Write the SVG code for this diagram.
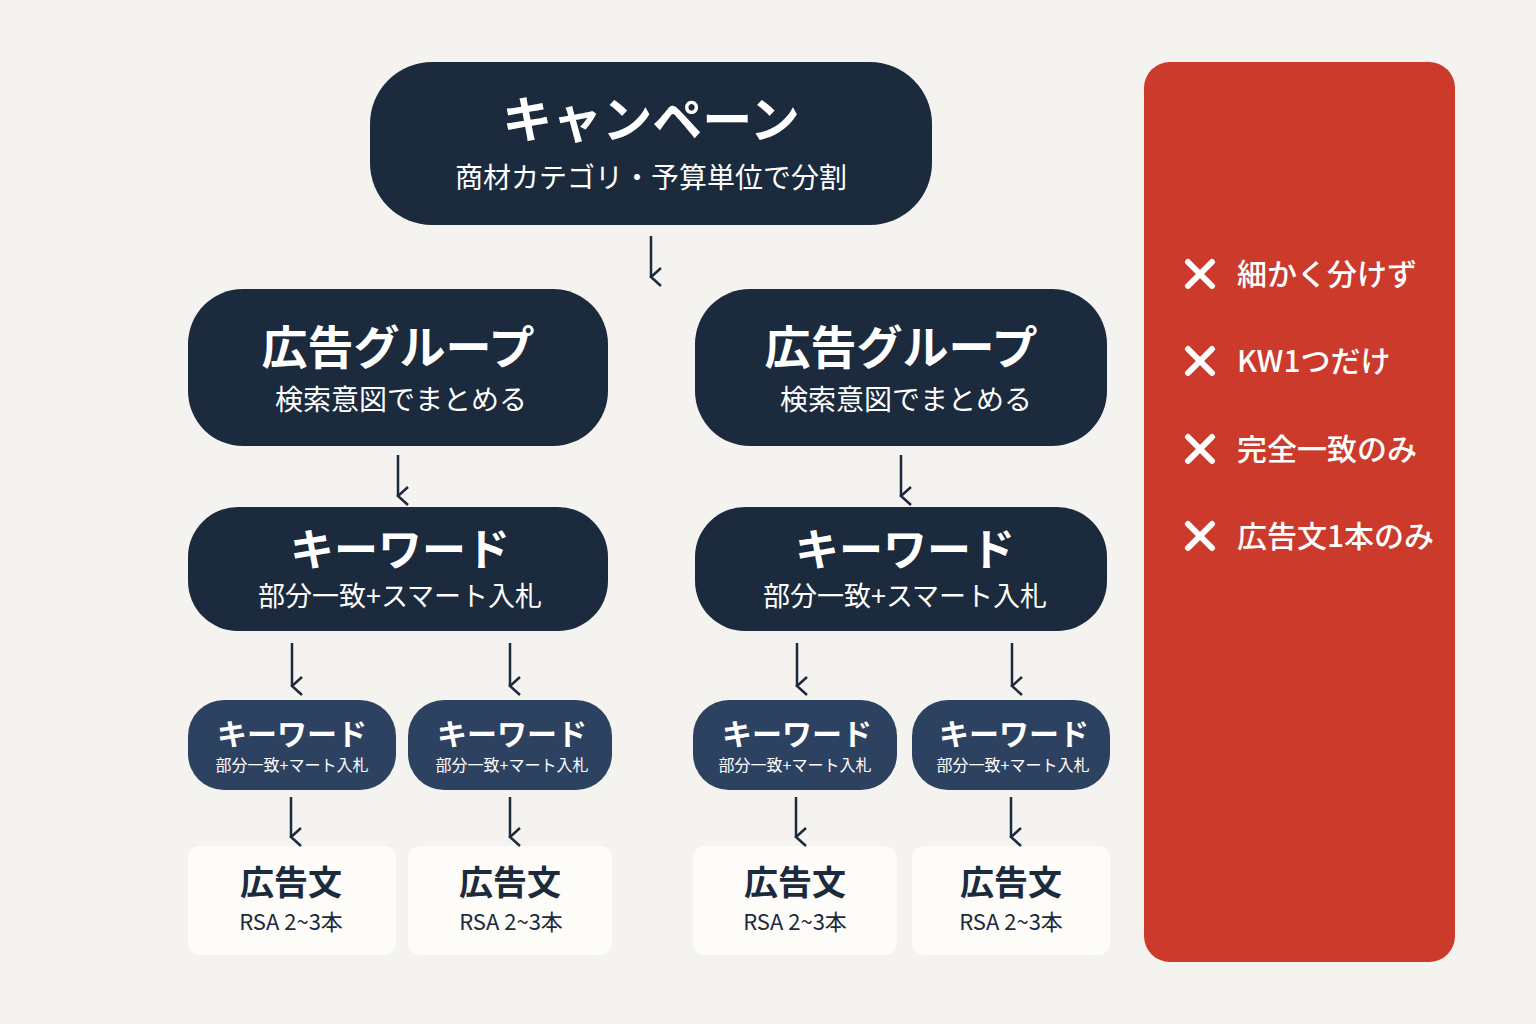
<svg xmlns="http://www.w3.org/2000/svg" width="1536" height="1024" viewBox="0 0 1536 1024">
<defs>
<style>
text{font-family:"Noto Sans CJK JP","Noto Sans",sans-serif;text-anchor:middle}
.dk{fill:#1b2a3d}.md{fill:#2d4260}.lt{fill:#fdfcf8}
.w{fill:#fff}.b{fill:#1b2a3d}
.ar{stroke:#1b2a3d;stroke-width:2.5;fill:none}
.x{stroke:#fff;stroke-width:6;stroke-linecap:round}
.r{text-anchor:start;fill:#fff;font-size:30px;font-weight:500}
</style>
<marker id="ah" viewBox="0 0 20 20" refX="10" refY="18" markerWidth="20" markerHeight="20" markerUnits="userSpaceOnUse" orient="auto-start-reverse"><path d="M1 8 L10 18 L19 8" stroke="#1b2a3d" stroke-width="2.5" fill="none"/></marker>
</defs>
<rect width="1536" height="1024" fill="#f5f3f0"/>
<g id="campaign"><rect x="370" y="62" width="562" height="163" rx="62" class="dk"/>
<text x="651" y="138" class="w" font-size="50" font-weight="700">キャンペーン</text>
<text x="651" y="188" class="w" font-size="28">商材カテゴリ・予算単位で分割</text></g>
<g id="ag1"><rect x="188" y="289" width="420" height="157" rx="55" class="dk"/>
<text x="398" y="364" class="w" font-size="46" font-weight="700">広告グループ</text>
<text x="401" y="410" class="w" font-size="28">検索意図でまとめる</text></g>
<g id="ag2"><rect x="695" y="289" width="412" height="157" rx="55" class="dk"/>
<text x="901" y="364" class="w" font-size="46" font-weight="700">広告グループ</text>
<text x="906" y="410" class="w" font-size="28">検索意図でまとめる</text></g>
<g id="kw1"><rect x="188" y="507" width="420" height="124" rx="50" class="dk"/>
<text x="400" y="566" class="w" font-size="44" font-weight="700">キーワード</text>
<text x="400" y="606" class="w" font-size="27">部分一致+スマート入札</text></g>
<g id="kw2"><rect x="695" y="507" width="412" height="124" rx="50" class="dk"/>
<text x="905" y="566" class="w" font-size="44" font-weight="700">キーワード</text>
<text x="905" y="606" class="w" font-size="27">部分一致+スマート入札</text></g>
<g id="k1"><rect x="188" y="700" width="208" height="90" rx="36" class="md"/><text x="292" y="745" class="w" font-size="30" font-weight="700">キーワード</text><text x="292" y="771" class="w" font-size="16">部分一致+マート入札</text></g>
<g id="k2"><rect x="408" y="700" width="204" height="90" rx="36" class="md"/><text x="512" y="745" class="w" font-size="30" font-weight="700">キーワード</text><text x="512" y="771" class="w" font-size="16">部分一致+マート入札</text></g>
<g id="k3"><rect x="693" y="700" width="204" height="90" rx="36" class="md"/><text x="797" y="745" class="w" font-size="30" font-weight="700">キーワード</text><text x="795" y="771" class="w" font-size="16">部分一致+マート入札</text></g>
<g id="k4"><rect x="912" y="700" width="198" height="90" rx="36" class="md"/><text x="1014" y="745" class="w" font-size="30" font-weight="700">キーワード</text><text x="1013" y="771" class="w" font-size="16">部分一致+マート入札</text></g>
<g id="a1"><rect x="188" y="846" width="208" height="109" rx="12" class="lt"/><text x="291" y="895" class="b" font-size="34" font-weight="700">広告文</text><text x="291" y="930" class="b" font-size="22">RSA 2~3本</text></g>
<g id="a2"><rect x="408" y="846" width="204" height="109" rx="12" class="lt"/><text x="510" y="895" class="b" font-size="34" font-weight="700">広告文</text><text x="511" y="930" class="b" font-size="22">RSA 2~3本</text></g>
<g id="a3"><rect x="693" y="846" width="204" height="109" rx="12" class="lt"/><text x="795" y="895" class="b" font-size="34" font-weight="700">広告文</text><text x="795" y="930" class="b" font-size="22">RSA 2~3本</text></g>
<g id="a4"><rect x="912" y="846" width="198" height="109" rx="12" class="lt"/><text x="1011" y="895" class="b" font-size="34" font-weight="700">広告文</text><text x="1011" y="930" class="b" font-size="22">RSA 2~3本</text></g>
<g id="connectors" class="ar" marker-end="url(#ah)">
<line x1="651" y1="236" x2="651" y2="277"/>
<line x1="398" y1="455" x2="398" y2="496"/>
<line x1="901" y1="455" x2="901" y2="496"/>
<line x1="292" y1="643" x2="292" y2="686"/>
<line x1="510" y1="643" x2="510" y2="686"/>
<line x1="797" y1="643" x2="797" y2="686"/>
<line x1="1012" y1="643" x2="1012" y2="686"/>
<line x1="291" y1="797" x2="291" y2="837"/>
<line x1="510" y1="797" x2="510" y2="837"/>
<line x1="796" y1="797" x2="796" y2="837"/>
<line x1="1011" y1="797" x2="1011" y2="837"/>
</g>
<g id="panel"><rect x="1144" y="62" width="311" height="900" rx="26" fill="#cc3a2c"/>
<path class="x" d="M1188 262 L1212 286 M1212 262 L1188 286 M1188 349 L1212 373 M1212 349 L1188 373 M1188 437 L1212 461 M1212 437 L1188 461 M1188 524 L1212 548 M1212 524 L1188 548"/>
<text x="1237" y="285" class="r">細かく分けず</text>
<text x="1237" y="372" class="r">KW1つだけ</text>
<text x="1237" y="460" class="r">完全一致のみ</text>
<text x="1237" y="547" class="r">広告文1本のみ</text></g>
</svg>
